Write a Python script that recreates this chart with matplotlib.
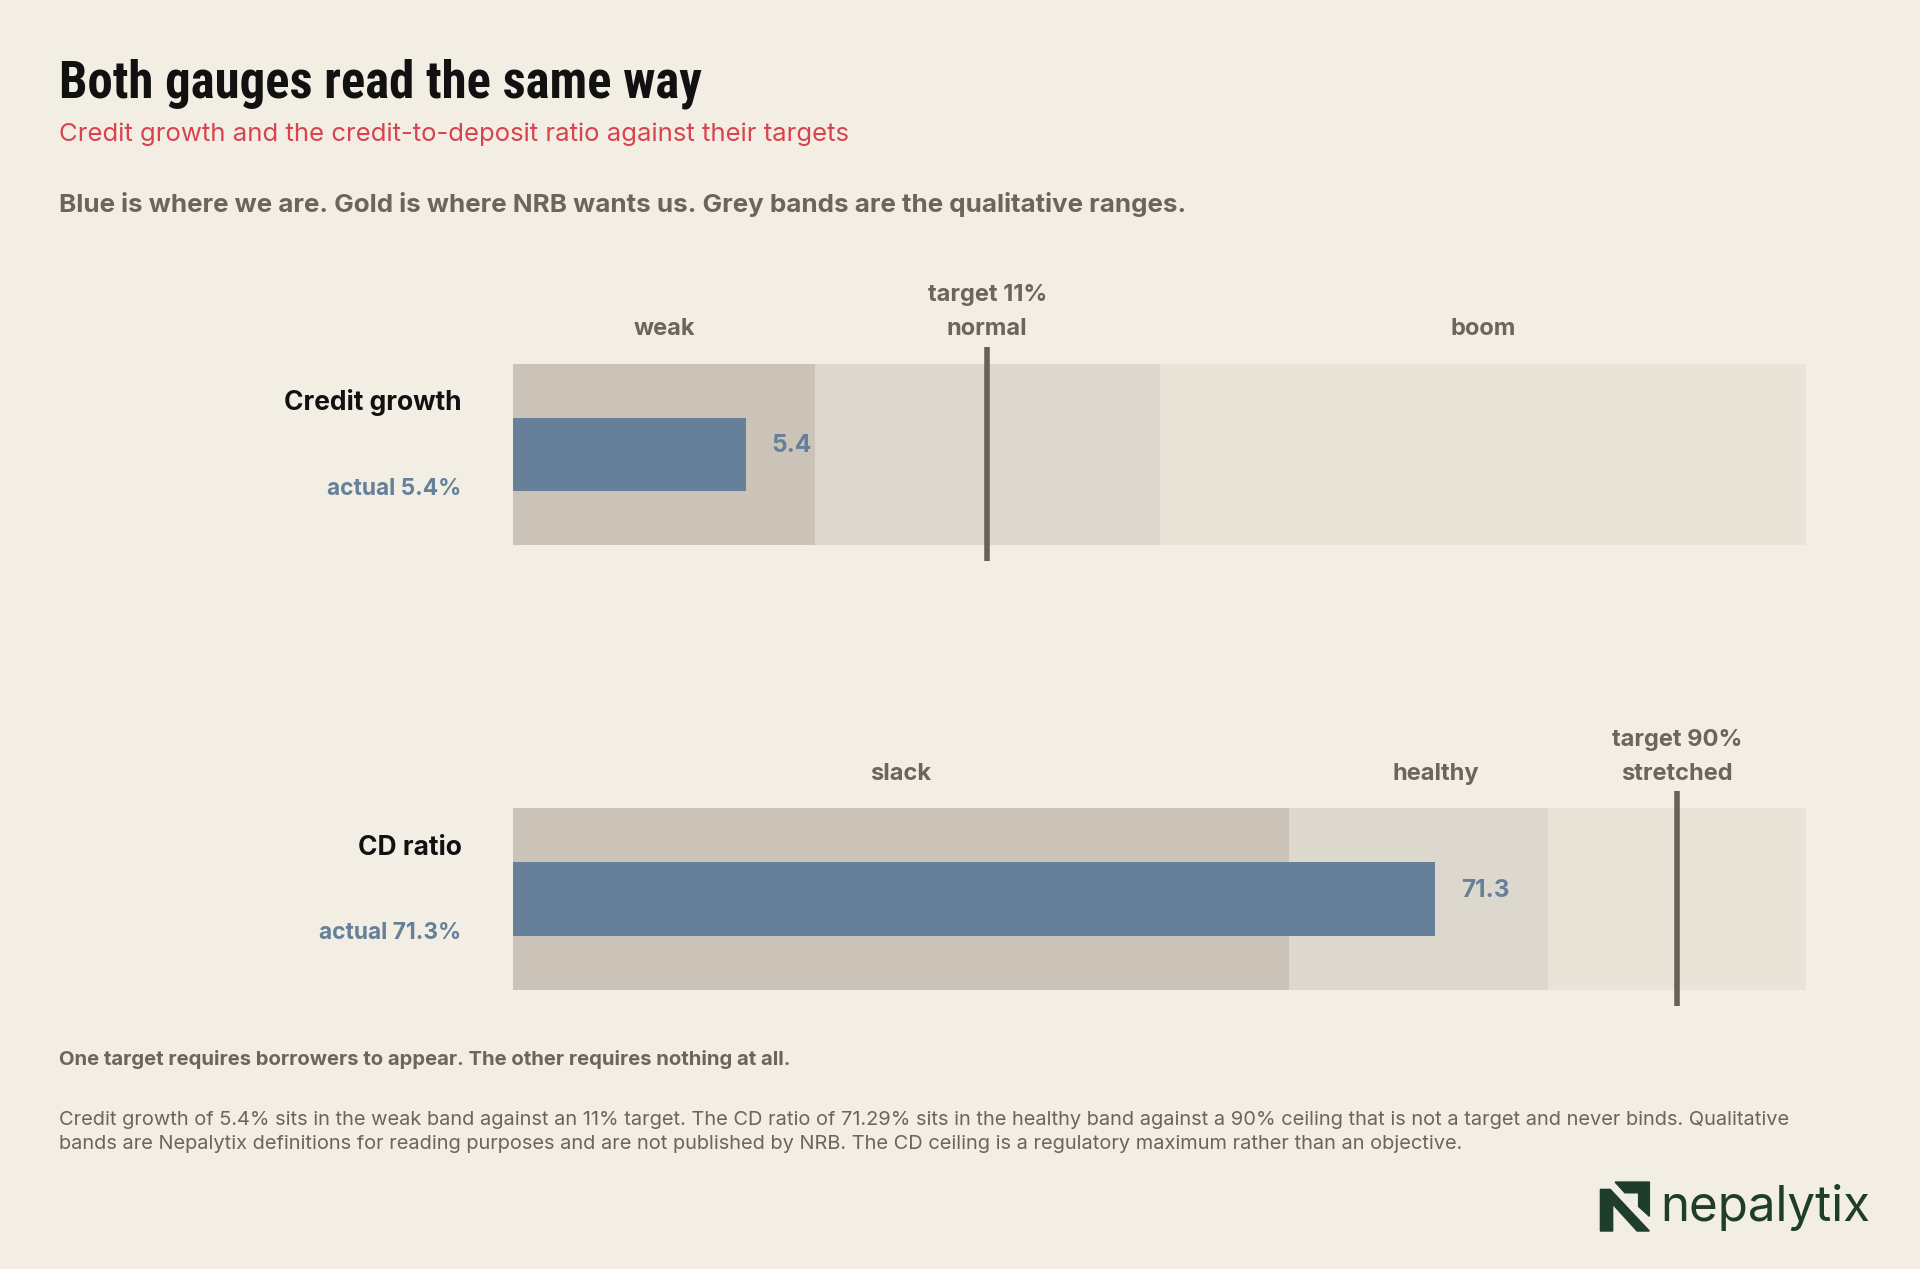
import matplotlib.pyplot as plt
from matplotlib.patches import Polygon

plt.rcParams['font.family'] = ['Inter', 'DejaVu Sans']

# data
gauges = ['Credit growth', 'CD ratio']
actuals = [5.4, 71.29]
targets = [11, 90]
maxima = [30, 100]
band_edges = [[0, 7, 15, 30], [0, 60, 80, 100]]
band_names = [['weak', 'normal', 'boom'], ['slack', 'healthy', 'stretched']]
target_labels = ['target 11%', 'target 90%']

BG = '#F2EEE3'
BANDS = ['#CBC3B8', '#DCD8CE', '#E9E3D8']
BLUE = '#66809A'
LINE = '#676158'
GREY = '#6B655C'

W, H = 1568, 1036  # reference layout coords
fig = plt.figure(figsize=(19.2, 12.69), dpi=100, facecolor=BG)

def fx(x): return x / W
def fy(y): return 1 - y / H

fig.text(fx(48), fy(68), 'Both gauges read the same way', fontsize=36.5, weight='bold',
         color='#111111', va='center', family=['Roboto Condensed', 'Roboto', 'DejaVu Sans'], stretch='condensed')
fig.text(fx(48), fy(110), 'Credit growth and the credit-to-deposit ratio against their targets',
         fontsize=18.5, color='#D9434E', va='center')
fig.text(fx(48), fy(167), 'Blue is where we are. Gold is where NRB wants us. Grey bands are the qualitative ranges.',
         fontsize=18.7, weight='bold', color=GREY, va='center')

tops = [297, 660]
for i, name in enumerate(gauges):
    top = tops[i]
    ax = fig.add_axes([fx(419), fy(top + 148), fx(1056), 148 / H])
    ax.set_xlim(0, maxima[i])
    ax.set_ylim(0, 1)
    ax.axis('off')
    e = band_edges[i]
    for j in range(3):
        ax.axvspan(e[j], e[j + 1], color=BANDS[j], lw=0)
        ax.text((e[j] + e[j + 1]) / 2 + (maxima[i] * 0.014 if band_names[i][j] == 'healthy' else 0),
                1.19, band_names[i][j], ha='center', va='center', fontsize=17,
                weight='bold', color=GREY)
    ax.barh(0.5, actuals[i], height=0.405, color=BLUE, lw=0)
    ax.text(actuals[i] + maxima[i] * 0.02, 0.55, f'{actuals[i]:.1f}', va='center',
            fontsize=17.5, weight='bold', color=BLUE)
    ax.plot([targets[i], targets[i]], [-0.09, 1.095], color=LINE, lw=4, clip_on=False,
            solid_capstyle='butt')
    ax.text(targets[i], 1.38, target_labels[i], ha='center', va='center', fontsize=17,
            weight='bold', color=GREY)
    fig.text(fx(377), fy(top + 32), name, ha='right', va='center', fontsize=19,
             weight='bold', color='#111111')
    fig.text(fx(377), fy(top + 102), f'actual {actuals[i]:.1f}%', ha='right', va='center',
             fontsize=16.4, weight='bold', color=BLUE)

fig.text(fx(48), fy(865), 'One target requires borrowers to appear. The other requires nothing at all.',
         fontsize=14.6, weight='bold', color=GREY, va='center')
fig.text(fx(48), fy(924),
         'Credit growth of 5.4% sits in the weak band against an 11% target. The CD ratio of 71.29% sits in the healthy band against a 90% ceiling that is not a target and never binds. Qualitative\n'
         'bands are Nepalytix definitions for reading purposes and are not published by NRB. The CD ceiling is a regulatory maximum rather than an objective.',
         fontsize=14.4, color=GREY, va='center', linespacing=1.45)

# logo
GREEN = '#1F3D2B'
lx, ly = fx(1307), fy(1005)
sw, sh = fx(40), 40 / H
fig.patches.append(Polygon([(lx, ly), (lx + sw * 0.25, ly), (lx + sw * 0.25, ly + sh * 0.55),
                            (lx + sw * 0.75, ly), (lx + sw, ly), (lx + sw * 0.2, ly + sh * 0.85),
                            (lx, ly + sh * 0.85)], closed=True, color=GREEN,
                           transform=fig.transFigure))
fig.patches.append(Polygon([(lx + sw * 0.3, ly + sh), (lx + sw, ly + sh), (lx + sw, ly + sh * 0.3),
                            (lx + sw * 0.78, ly + sh * 0.5), (lx + sw * 0.78, ly + sh * 0.78),
                            (lx + sw * 0.5, ly + sh * 0.78)], closed=True, color=GREEN,
                           transform=fig.transFigure))
fig.text(fx(1356), fy(986), 'nepalytix', fontsize=35.5, color=GREEN, va='center')

fig.savefig('out.png', dpi=100, facecolor=BG)
